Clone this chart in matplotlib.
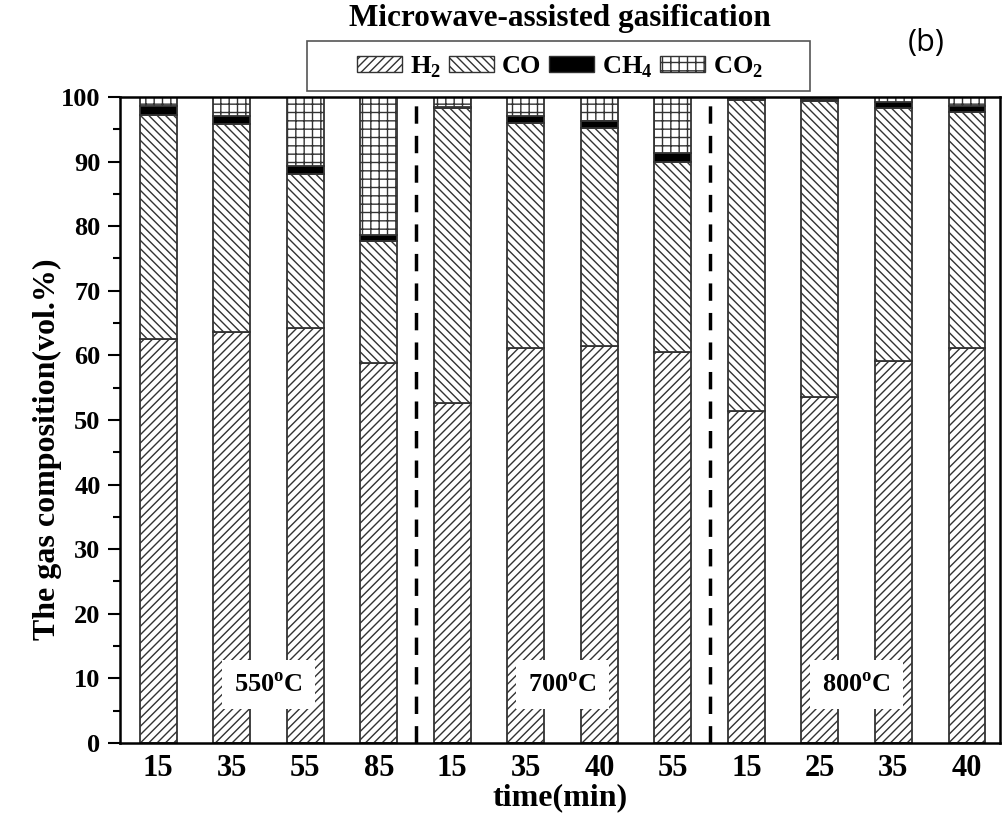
import numpy as np
import matplotlib
matplotlib.use("Agg")
import matplotlib.pyplot as plt
from matplotlib.patches import Patch, Rectangle

plt.rcParams["font.family"] = ["Liberation Serif", "DejaVu Serif"]
plt.rcParams["mathtext.fontset"] = "custom"
plt.rcParams["mathtext.rm"] = "Liberation Serif:bold"
plt.rcParams["mathtext.bf"] = "Liberation Serif:bold"
plt.rcParams["hatch.linewidth"] = 1.0

# ---------------------------------------------------------------------------
# Data (vol.%)
# ---------------------------------------------------------------------------
times = ["15", "35", "55", "85", "15", "35", "40", "55", "15", "25", "35", "40"]
temps = ["550", "700", "800"]

h2  = [62.5, 63.6, 64.2, 58.8, 52.6, 61.1, 61.5, 60.5, 51.4, 53.6, 59.1, 61.1]
co  = [34.7, 32.2, 23.9, 18.9, 45.7, 34.9, 33.7, 29.4, 48.1, 45.8, 39.2, 36.6]
ch4 = [1.4, 1.3, 1.2, 0.9, 0.2, 1.1, 1.1, 1.4, 0.2, 0.3, 0.9, 0.9]
co2 = [1.4, 2.9, 10.7, 21.4, 1.5, 2.9, 3.7, 8.7, 0.3, 0.3, 0.8, 1.4]

series = [("H$_2$", h2, "////", "white"),
          ("CO", co, "\\\\\\\\", "white"),
          ("CH$_4$", ch4, "", "black"),
          ("CO$_2$", co2, "++", "white")]

# ---------------------------------------------------------------------------
# Plot
# ---------------------------------------------------------------------------
fig = plt.figure(figsize=(10.04, 8.19), dpi=100)
ax = fig.add_axes([0.1195, 0.0928, 0.8765, 0.7888])

x = np.arange(len(times))
bottom = np.zeros(len(times))
for name, vals, hatch, fc in series:
    vals = np.array(vals)
    ax.bar(x, vals, width=0.5, bottom=bottom, color=fc, edgecolor="#333333",
           hatch=hatch, linewidth=1.3, zorder=2)
    bottom += vals

# group separators
for xs in [3.5, 7.5]:
    ax.plot([xs, xs], [0, 100], color="black", linestyle=(0, (5, 3.5)),
            linewidth=2.5, zorder=3)

# temperature labels
for i, t in enumerate(temps):
    ax.text(4 * i + 1.5, 9, t + r"$^{\mathbf{o}}$C", ha="center", va="center",
            fontsize=19, fontweight="bold", zorder=4,
            bbox=dict(facecolor="white", edgecolor="none", pad=9))

ax.set_xlim(-0.52, 11.45)
ax.set_ylim(0, 100)
ax.set_xticks(x)
ax.set_xticklabels(times)
ax.set_yticks(np.arange(0, 101, 10))
ax.set_yticks(np.arange(5, 100, 10), minor=True)
ax.tick_params(axis="x", length=0, pad=8, labelsize=22)
ax.tick_params(axis="y", which="major", length=9, width=1.5, direction="out",
               labelsize=19, pad=5)
ax.tick_params(axis="y", which="minor", length=5, width=1.5, direction="out")
for lab in ax.get_xticklabels() + ax.get_yticklabels():
    lab.set_fontweight("bold")
for s in ax.spines.values():
    s.set_linewidth(1.8)

ax.set_ylabel("The gas composition(vol.%)", fontsize=23, fontweight="bold")
ax.yaxis.set_label_coords(-0.066, 0.455)
ax.set_xlabel("time(min)", fontsize=23, fontweight="bold", labelpad=0)

# legend (frame drawn separately for its wide side margins) and title
handles = [Patch(facecolor=fc, edgecolor="#333333", hatch=h, label=n)
           for n, _, h, fc in series]
fig.legend(handles=handles, loc="center", bbox_to_anchor=(0.558, 0.918), ncol=4,
           frameon=False, prop={"size": 19, "weight": "bold"},
           handlelength=1.7, handleheight=0.6, handletextpad=0.3, columnspacing=0.3,
           borderpad=0.2, borderaxespad=0)
fig.patches.append(Rectangle((0.3058, 0.889), 0.501, 0.061, transform=fig.transFigure,
                             facecolor="none", edgecolor="#555555", linewidth=1.2))
fig.text(0.558, 0.978, "Microwave-assisted gasification", ha="center", va="center",
         fontsize=22.5, fontweight="bold")
fig.text(0.922, 0.948, "(b)", ha="center", va="center", fontsize=22,
         family="Open Sans")

fig.savefig("out.png", dpi=100)
